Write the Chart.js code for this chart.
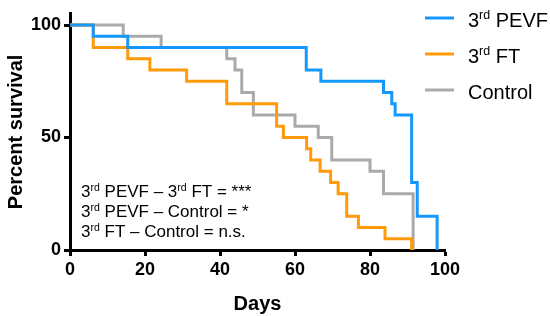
<!DOCTYPE html>
<html>
<head>
<meta charset="utf-8">
<script src="https://cdn.jsdelivr.net/npm/chart.js@4/dist/chart.umd.min.js"></script>
<style>
  html, body { margin: 0; padding: 0; background: #fff; }
  #wrap { width: 550px; height: 316px; }
</style>
</head>
<body>
<div id="wrap"><canvas id="myChart" width="550" height="316"></canvas></div>
<script>
// survival data (days, percent)
const pevfDays = [0, 6.2, 15.4, 63, 66.9, 83.6, 85.8, 86.7, 91.1, 92.6, 97.9]
const pevfSurvival = [100, 95, 90, 80, 75, 70, 65, 60, 30, 15, 0]

const ftDays = [0, 6.2, 15.4, 21.3, 31.1, 41.8, 55.1, 56.9, 63.1, 64.2, 66.7, 69.5, 71.5, 73.8, 76.9, 84, 91.1]
const ftSurvival = [100, 90, 85, 80, 75, 65, 55, 50, 45, 40, 35, 30, 25, 15, 10, 5, 0]

const controlDays = [0, 14.2, 24.3, 41.8, 44, 45.8, 48.9, 60, 66.2, 69.8, 80, 83.6, 91.5]
const controlSurvival = [100, 95, 90, 85, 80, 70, 60, 55, 50, 40, 35, 25, 0]

// ^...^ marks superscript
const seriesLabels = ["3^rd^ PEVF", "3^rd^ FT", "Control"]
const seriesColors = ["#1697fb", "#ff9a0a", "#aaaaaa"]
const statLines = [
  "3^rd^ PEVF – 3^rd^ FT = ***",
  "3^rd^ PEVF – Control = *",
  "3^rd^ FT – Control = n.s."
]
const xTicks = [0, 20, 40, 60, 80, 100]
const yTicks = [0, 50, 100]

const FONT = "'Liberation Sans', Arial, Helvetica, sans-serif"

const toPoints = (days, vals) => days.map((d, i) => ({ x: d, y: vals[i] }))

function drawRich(ctx, str, x, y, size) {
  const parts = str.split("^")
  parts.forEach((p, i) => {
    const sup = i % 2 === 1
    ctx.font = (sup ? size * 0.62 : size) + "px " + FONT
    ctx.fillText(p, x, sup ? y - size * 0.36 : y)
    x += ctx.measureText(p).width
  })
}

const textPlugin = {
  id: "textPlugin",
  afterDraw(chart) {
    const ctx = chart.ctx
    ctx.save()
    ctx.fillStyle = "#000"
    ctx.textBaseline = "alphabetic"
    ctx.textAlign = "left"
    // legend
    seriesLabels.forEach((lab, i) => {
      const base = 26.5 + i * 36
      ctx.strokeStyle = seriesColors[i]
      ctx.lineWidth = 3
      ctx.beginPath()
      ctx.moveTo(425, base - 8.5)
      ctx.lineTo(454, base - 8.5)
      ctx.stroke()
      drawRich(ctx, lab, 468, base, 20)
    })
    // stats
    statLines.forEach((line, i) => {
      drawRich(ctx, line, 81, 197 + i * 20, 17)
    })
    ctx.restore()
  }
}

const series = [
  toPoints(pevfDays, pevfSurvival),
  toPoints(ftDays, ftSurvival),
  toPoints(controlDays, controlSurvival)
]

const ctx = document.getElementById("myChart").getContext("2d")
new Chart(ctx, {
  type: "line",
  data: {
    datasets: series.map((pts, i) => ({
      label: seriesLabels[i].replace(/\^/g, ""),
      data: pts,
      borderColor: seriesColors[i],
      backgroundColor: seriesColors[i],
      borderWidth: 3,
      pointRadius: 0,
      stepped: "before",
      fill: false
    }))
  },
  options: {
    responsive: false,
    animation: false,
    layout: { padding: { left: 0, right: 105, top: 12.7, bottom: 0 } },
    plugins: { legend: { display: false }, tooltip: { enabled: false } },
    scales: {
      x: {
        type: "linear",
        min: 0,
        max: 100,
        afterBuildTicks: s => { s.ticks = xTicks.map(v => ({ value: v })) },
        afterFit: s => { s.height = 66 },
        border: { display: true, color: "#000", width: 3 },
        grid: { drawOnChartArea: false, drawTicks: true, tickLength: 6, tickWidth: 3, tickColor: "#000" },
        ticks: { color: "#000", padding: 3, maxRotation: 0, font: { family: FONT, size: 18, weight: "bold" } },
        title: { display: true, text: "Days", color: "#000", padding: { top: 3, bottom: 0 }, font: { family: FONT, size: 20, weight: "bold" } }
      },
      y: {
        type: "linear",
        min: 0,
        max: 105,
        afterBuildTicks: s => { s.ticks = yTicks.map(v => ({ value: v })) },
        afterFit: s => { s.width = 70 },
        border: { display: true, color: "#000", width: 3 },
        grid: { drawOnChartArea: false, drawTicks: true, tickLength: 6, tickWidth: 3, tickColor: "#000" },
        ticks: { color: "#000", padding: 3, font: { family: FONT, size: 18, weight: "bold" } },
        title: { display: true, text: "Percent survival", color: "#000", padding: { top: 4, bottom: 0 }, font: { family: FONT, size: 20, weight: "bold" } }
      }
    }
  },
  plugins: [textPlugin]
})
</script>
</body>
</html>
